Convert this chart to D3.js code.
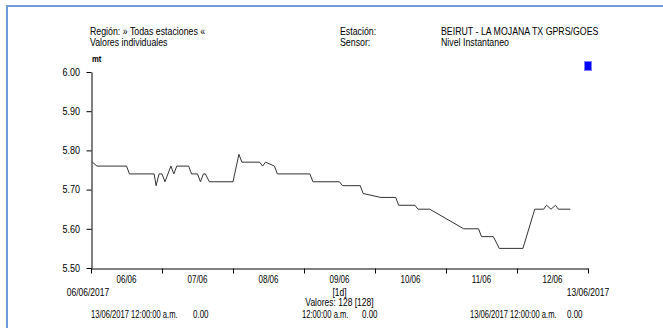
<!DOCTYPE html>
<html><head><meta charset="utf-8">
<script src="https://cdn.jsdelivr.net/npm/d3@7"></script>
<style>
html,body{margin:0;padding:0;background:#fff;}
svg text{font-family:"Liberation Sans",Arial,sans-serif;font-size:10px;fill:#000;}
</style></head>
<body><svg id="c" width="663" height="328"></svg>
<script>
// Data
const times = ["2017-06-06T00:30","2017-06-06T02:00","2017-06-06T12:00","2017-06-06T13:00","2017-06-06T21:20","2017-06-06T22:00","2017-06-06T23:00","2017-06-07T00:00","2017-06-07T01:00","2017-06-07T03:00","2017-06-07T04:00","2017-06-07T05:00","2017-06-07T09:00","2017-06-07T10:00","2017-06-07T12:00","2017-06-07T13:00","2017-06-07T14:00","2017-06-07T14:40","2017-06-07T16:00","2017-06-08T00:00","2017-06-08T02:00","2017-06-08T03:00","2017-06-08T09:00","2017-06-08T10:00","2017-06-08T11:00","2017-06-08T12:30","2017-06-08T14:00","2017-06-08T15:00","2017-06-09T02:00","2017-06-09T03:00","2017-06-09T12:00","2017-06-09T13:00","2017-06-09T19:00","2017-06-09T20:00","2017-06-10T02:00","2017-06-10T07:00","2017-06-10T08:00","2017-06-10T13:30","2017-06-10T14:30","2017-06-10T18:30","2017-06-11T06:00","2017-06-11T11:00","2017-06-11T12:00","2017-06-11T16:00","2017-06-11T18:00","2017-06-12T02:00","2017-06-12T06:00","2017-06-12T09:00","2017-06-12T10:00","2017-06-12T11:30","2017-06-12T13:00","2017-06-12T14:00","2017-06-12T18:00"];
const values = [5.77,5.76,5.76,5.74,5.74,5.71,5.74,5.74,5.72,5.76,5.74,5.76,5.76,5.74,5.74,5.72,5.74,5.74,5.72,5.72,5.79,5.77,5.77,5.76,5.77,5.765,5.76,5.74,5.74,5.72,5.72,5.71,5.71,5.69,5.68,5.68,5.66,5.66,5.65,5.65,5.60,5.60,5.58,5.58,5.55,5.55,5.65,5.65,5.66,5.65,5.66,5.65,5.65];
const yTicks = [5.50,5.60,5.70,5.80,5.90,6.00];
const dayLabels = ["06/06","07/06","08/06","09/06","10/06","11/06","12/06"];
const headerLeft = ["Región: » Todas estaciones «","Valores individuales"];
const headerMid = ["Estación:","Sensor:"];
const headerRight = ["BEIRUT - LA MOJANA TX GPRS/GOES","Nivel Instantaneo"];
const unitLabel = "mt";
const startLabel = "06/06/2017", endLabel = "13/06/2017", stepLabel = "[1d]";
const countLabel = "Valores: 128 [128]";
const footLeft = "13/06/2017 12:00:00 a.m.", footMid = "12:00:00 a.m.", footRight = "13/06/2017 12:00:00 a.m.", footVal = "0.00";

const parse = d3.timeParse("%Y-%m-%dT%H:%M");
const data = times.map((t,i)=>({t:parse(t), v:values[i]}));

const svg = d3.select("#c");
function T(x, y, str, sx, anchor){
  return svg.append("text").attr("transform",`translate(${x},${y}) scale(${sx},1)`)
    .attr("text-anchor", anchor || "start").text(str);
}
// frame
svg.append("line").attr("x1",7).attr("x2",663).attr("y1",6).attr("y2",6).attr("stroke","#6f9bd6").attr("stroke-width",2);
svg.append("line").attr("x1",7).attr("x2",7).attr("y1",5).attr("y2",328).attr("stroke","#6f9bd6").attr("stroke-width",2);

const x = d3.scaleTime().domain([parse("2017-06-06T00:00"), parse("2017-06-13T00:00")]).range([91,588]);
const y = d3.scaleLinear().domain([5.5,6.0]).range([268,72]);

// header
headerLeft.forEach((s,i)=>T(90,35+i*11,s,0.88));
headerMid.forEach((s,i)=>T(340,35+i*11,s,0.88));
headerRight.forEach((s,i)=>T(441,35+i*11,s,0.88));
T(92,62,unitLabel,0.85).style("font-size","9px").style("font-weight","bold");

// legend square
svg.append("rect").attr("x",584.5).attr("y",61.5).attr("width",7).attr("height",9).attr("fill","#0000ff").attr("stroke","#7f7fff").attr("stroke-width",1);

// y axis
const ya = svg.append("g").attr("transform","translate(91.5,0)")
  .call(d3.axisLeft(y).tickValues(yTicks).tickFormat(d3.format(".2f")).tickSize(5).tickSizeOuter(0));
ya.attr("font-family",null).attr("font-size",null);
ya.select(".domain").attr("stroke","#000");
ya.selectAll("text").attr("x",-11.5/0.9).attr("transform","scale(0.9,1)");

// x axis
const days = d3.timeDay.range(parse("2017-06-06T00:00"), parse("2017-06-13T01:00"));
const xa = svg.append("g").attr("transform","translate(0,268.5)")
  .call(d3.axisBottom(x).tickValues(days).tickFormat("").tickSize(5).tickSizeOuter(0));
xa.select(".domain").attr("stroke","#000");
xa.selectAll("line").attr("stroke","#000");

// day labels at noon
dayLabels.forEach((d,i)=>T(x(d3.timeHour.offset(days[i],12)),283,d,0.8,"middle"));

const mid = x(d3.timeHour.offset(days[3],12));
T(x(days[0])-3,296,startLabel,0.85,"middle");
T(x(days[7]),296,endLabel,0.85,"middle");
T(mid,296,stepLabel,0.85,"middle");
T(mid,306,countLabel,0.85,"middle");

const fy = 318;
T(91,fy,footLeft,0.76);
T(193,fy,footVal,0.8);
T(302,fy,footMid,0.76);
T(362,fy,footVal,0.8);
T(470,fy,footRight,0.76);
T(567,fy,footVal,0.8);

// line
svg.append("path").datum(data)
  .attr("fill","none").attr("stroke","#333").attr("stroke-width",1)
  .attr("d", d3.line().x(d=>x(d.t)).y(d=>y(d.v)));
</script></body></html>
